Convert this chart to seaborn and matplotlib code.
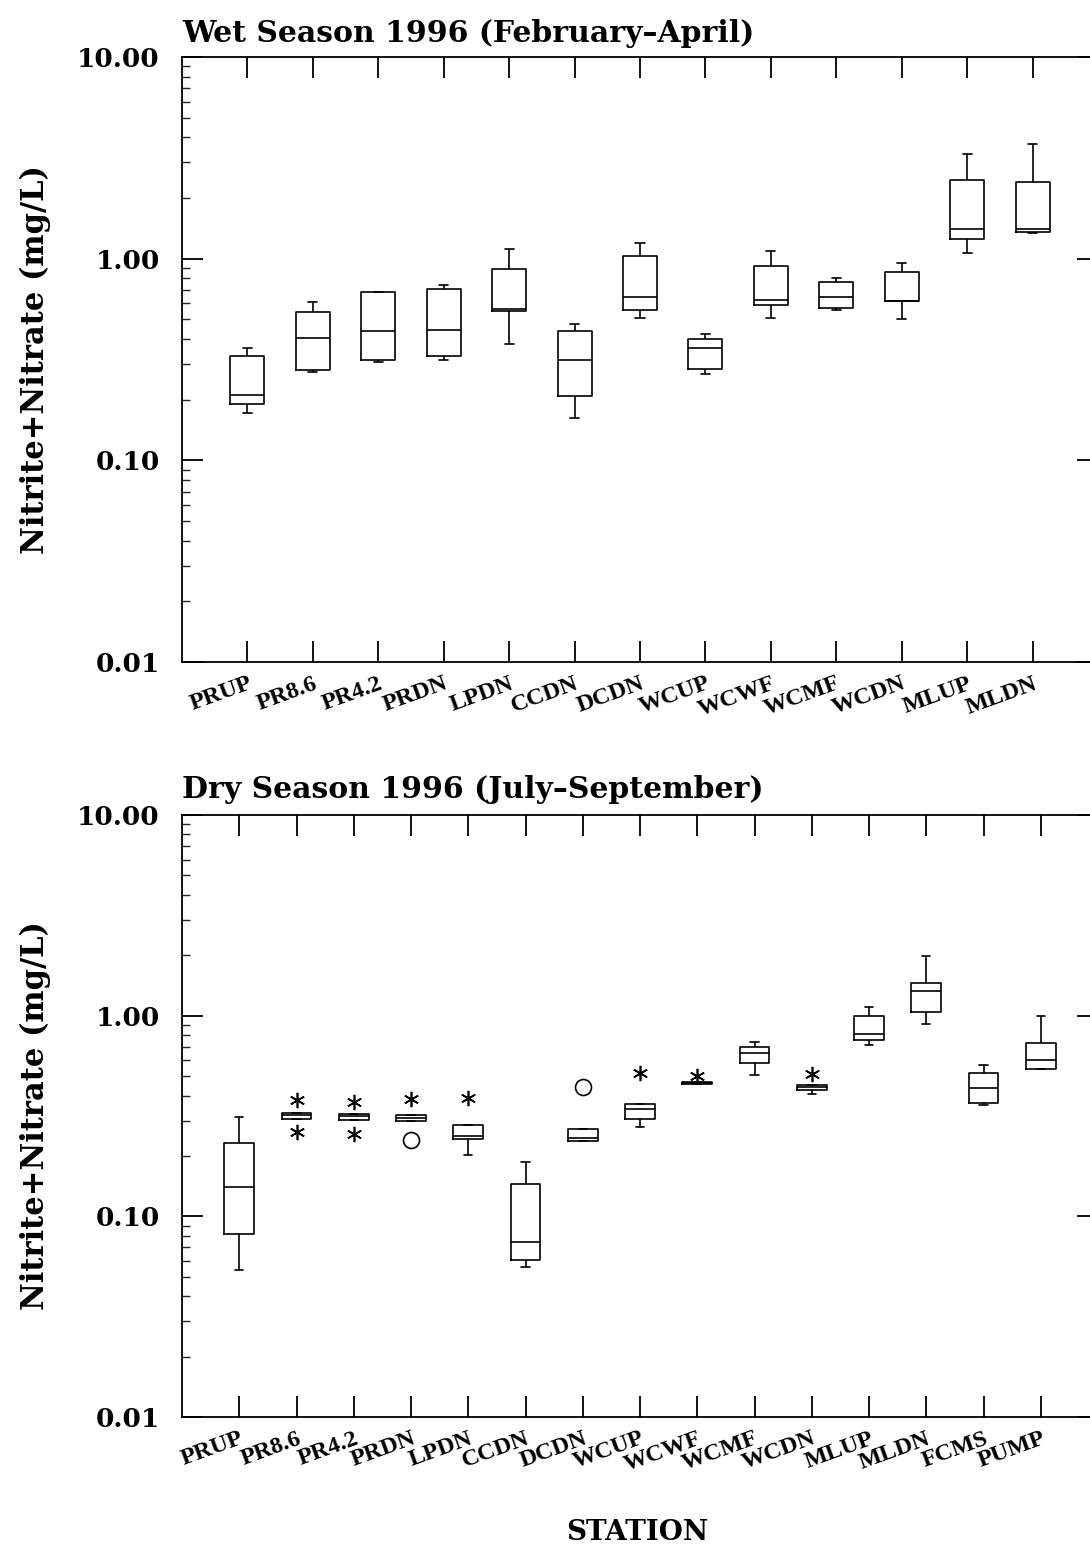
import numpy as np
import pandas as pd
import matplotlib
matplotlib.use("Agg")
import matplotlib.pyplot as plt
import seaborn as sns
from matplotlib.ticker import LogLocator, NullFormatter, FixedLocator

# ---------------- data ----------------
wet_stations = ["PRUP", "PR8.6", "PR4.2", "PRDN", "LPDN", "CCDN", "DCDN",
                "WCUP", "WCWF", "WCMF", "WCDN", "MLUP", "MLDN"]
wet_min = [0.171, 0.273, 0.309, 0.315, 0.377, 0.163, 0.510, 0.267, 0.507, 0.555, 0.500, 1.07, 1.335]
wet_q1 = [0.191, 0.281, 0.315, 0.331, 0.553, 0.209, 0.557, 0.284, 0.590, 0.568, 0.617, 1.25, 1.36]
wet_med = [0.210, 0.403, 0.440, 0.445, 0.564, 0.316, 0.649, 0.360, 0.624, 0.649, 0.617, 1.41, 1.41]
wet_q3 = [0.331, 0.542, 0.681, 0.705, 0.892, 0.437, 1.035, 0.400, 0.923, 0.763, 0.862, 2.46, 2.40]
wet_max = [0.360, 0.608, 0.685, 0.740, 1.117, 0.475, 1.190, 0.425, 1.090, 0.805, 0.955, 3.30, 3.70]

dry_stations = ["PRUP", "PR8.6", "PR4.2", "PRDN", "LPDN", "CCDN", "DCDN",
                "WCUP", "WCWF", "WCMF", "WCDN", "MLUP", "MLDN", "FCMS", "PUMP"]
dry_min = [0.0543, 0.307, 0.302, 0.299, 0.201, 0.0557, 0.238, 0.279, 0.455, 0.507, 0.406, 0.715, 0.912, 0.357, 0.543]
dry_q1 = [0.0817, 0.307, 0.302, 0.299, 0.242, 0.0606, 0.238, 0.305, 0.455, 0.579, 0.427, 0.754, 1.047, 0.366, 0.543]
dry_med = [0.140, 0.321, 0.316, 0.310, 0.250, 0.0745, 0.245, 0.341, 0.460, 0.649, 0.443, 0.807, 1.33, 0.438, 0.604]
dry_q3 = [0.232, 0.329, 0.324, 0.319, 0.284, 0.145, 0.273, 0.362, 0.465, 0.695, 0.453, 1.00, 1.46, 0.516, 0.734]
dry_max = [0.312, 0.329, 0.324, 0.319, 0.284, 0.186, 0.273, 0.362, 0.465, 0.743, 0.453, 1.10, 1.99, 0.571, 0.997]

# outliers (dry season): asterisks = far values, circles = outside values
dry_star_station = ["PR8.6", "PR8.6", "PR4.2", "PR4.2", "PRDN", "LPDN", "WCUP", "WCWF", "WCDN"]
dry_star_value = [0.378, 0.262, 0.373, 0.257, 0.383, 0.391, 0.520, 0.503, 0.510]
dry_circle_station = ["PRDN", "DCDN"]
dry_circle_value = [0.239, 0.443]

y_ticks = [0.01, 0.1, 1.0, 10.0]
y_ticklabels = ["0.01", "0.10", "1.00", "10.00"]

titles = ["Wet Season 1996 (February\u2013April)", "Dry Season 1996 (July\u2013September)"]
ylabel = "Nitrite+Nitrate (mg/L)"
xlabel = "STATION"


def long_frame(stations, mn, q1, med, q3, mx):
    rows = []
    for s, a, b, c, d, e in zip(stations, mn, q1, med, q3, mx):
        for v in (a, b, c, d, e):
            rows.append({"station": s, "value": v})
    return pd.DataFrame(rows)


# ---------------- style ----------------
sns.set_theme(style="white")
plt.rcParams["font.family"] = ["DejaVu Serif"]
plt.rcParams["font.weight"] = "bold"
plt.rcParams["axes.edgecolor"] = "black"
plt.rcParams["axes.linewidth"] = 1.3

W, H = 1090, 1552
fig = plt.figure(figsize=(W / 100, H / 100), dpi=100)
fig.patch.set_facecolor("white")

ax1 = fig.add_axes([182 / W, 1 - 662 / H, 916 / W, 605 / H])
ax2 = fig.add_axes([182 / W, 1 - 1417 / H, 916 / W, 602 / H])

panels = [
    (ax1, wet_stations, long_frame(wet_stations, wet_min, wet_q1, wet_med, wet_q3, wet_max), titles[0], 11),
    (ax2, dry_stations, long_frame(dry_stations, dry_min, dry_q1, dry_med, dry_q3, dry_max), titles[1], 12),
]

for ax, stations, df, title, tpad in panels:
    sns.boxplot(data=df, x="station", y="value", order=stations, ax=ax,
                whis=(0, 100), width=0.52, fill=False, color="black",
                linewidth=1.2, showfliers=False, log_scale=True, capwidths=0.14)
    ax.set_yscale("log")
    ax.set_ylim(0.01, 10)
    ax.set_xlim(-1, len(stations))
    ax.yaxis.set_major_locator(FixedLocator(y_ticks))
    ax.set_yticklabels(y_ticklabels)
    ax.yaxis.set_minor_locator(LogLocator(base=10, subs=np.arange(2, 10)))
    ax.yaxis.set_minor_formatter(NullFormatter())
    ax.tick_params(axis="y", which="major", direction="in", length=15, width=1.3,
                   left=True, right=True, labelsize=19, pad=16, colors="black")
    ax.tick_params(axis="y", which="minor", direction="in", length=6, width=1.0,
                   left=True, right=True)
    ax.set_xticks(range(len(stations)))
    ax.set_xticklabels(stations, rotation=20, ha="right", rotation_mode="anchor",
                       fontfamily="Liberation Serif", fontweight="bold", fontsize=17.5)
    ax.tick_params(axis="x", which="major", direction="in", length=15, width=1.3,
                   top=True, bottom=True, pad=8, colors="black")
    ax.set_xlabel("")
    ax.set_ylabel(ylabel, fontsize=22, fontweight="bold", color="black")
    ax.yaxis.set_label_coords(-0.143, 0.5)
    ax.set_title(title, loc="left", fontsize=21.5, fontweight="bold", pad=tpad, color="black")
    for sp in ax.spines.values():
        sp.set_visible(True)
        sp.set_color("black")
        sp.set_linewidth(1.3)

# outliers on the dry-season panel
star_x = [dry_stations.index(s) for s in dry_star_station]
circ_x = [dry_stations.index(s) for s in dry_circle_station]
ax2.plot(star_x, dry_star_value, linestyle="none", marker=(6, 2, 0),
         markersize=11, markeredgewidth=1.2, color="black")
ax2.plot(circ_x, dry_circle_value, linestyle="none", marker="o",
         markersize=11.5, markerfacecolor="none", markeredgewidth=1.2,
         markeredgecolor="black")

fig.text(637 / W, 1 - 1532 / H, xlabel, ha="center", va="center",
         fontsize=20, fontweight="bold", color="black")

fig.savefig("out.png", dpi=100, facecolor="white")
